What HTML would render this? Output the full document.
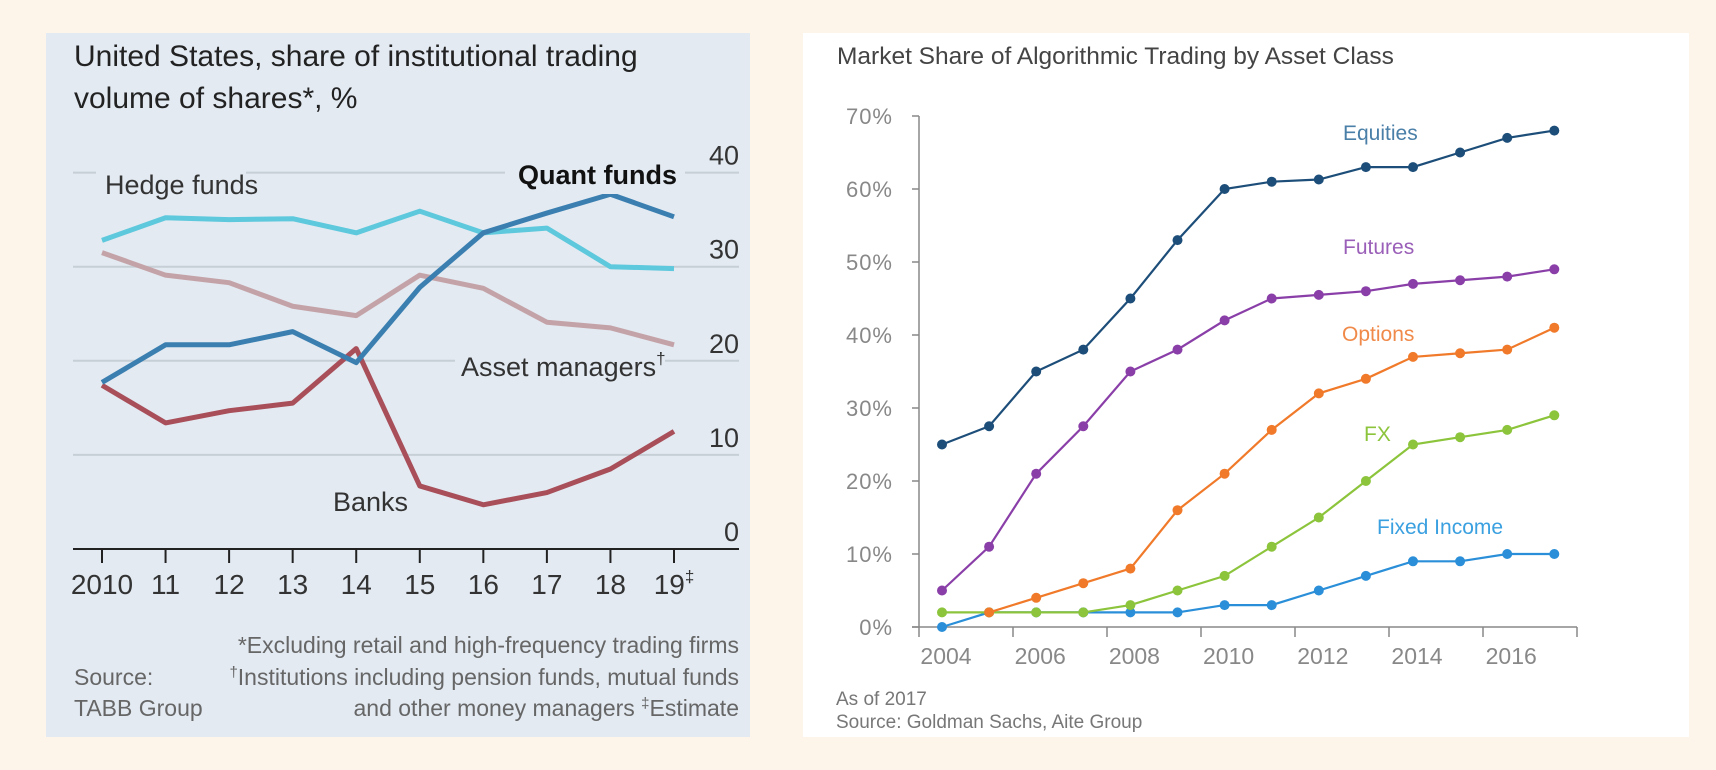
<!DOCTYPE html>
<html><head><meta charset="utf-8"><style>
html,body{margin:0;padding:0;background:#fdf5ea;}
svg{display:block;font-family:"Liberation Sans",sans-serif;}
</style></head><body>
<svg id="root" width="1716" height="770" viewBox="0 0 1716 770">
<rect x="0" y="0" width="1716" height="770" fill="#fdf5ea"/>
<g id="left">
<rect x="46" y="33" width="704" height="704" fill="#e3eaf2"/>
<text x="74" y="66" font-size="30" fill="#222">United States, share of institutional trading</text>
<text x="74" y="108" font-size="30" fill="#222">volume of shares*, %</text>
<g id="lgrid"></g><g id="llines"></g>
<rect x="96" y="170" width="150" height="34" fill="#e3eaf2"/>
<text x="105" y="194" font-size="27" fill="#333">Hedge funds</text>
<rect x="505" y="160" width="180" height="34" fill="#e3eaf2"/>
<text x="677" y="184" font-size="27" font-weight="bold" fill="#111" text-anchor="end">Quant funds</text>
<rect x="455" y="350" width="210" height="32" fill="#e3eaf2"/>
<text x="461" y="376" font-size="27" fill="#333">Asset managers<tspan font-size="17" dy="-12">†</tspan></text>
<text x="333" y="511" font-size="27" fill="#333">Banks</text>
<g font-size="23" fill="#666">
<text x="739" y="653" text-anchor="end">*Excluding retail and high-frequency trading firms</text>
<text x="739" y="685" text-anchor="end"><tspan font-size="15" dy="-8">†</tspan><tspan dy="8">Institutions including pension funds, mutual funds</tspan></text>
<text x="739" y="716" text-anchor="end">and other money managers   <tspan font-size="15" dy="-8">‡</tspan><tspan dy="8">Estimate</tspan></text>
<text x="74" y="685">Source:</text>
<text x="74" y="716">TABB Group</text>
</g>
</g>
<g id="right">
<rect x="803" y="33" width="886" height="704" fill="#ffffff"/>
<text x="837" y="64" font-size="24.5" fill="#444">Market Share of Algorithmic Trading by Asset Class</text>
<g id="raxes"></g><g id="rlines"></g>
<text x="1343" y="140" font-size="21" fill="#4a7fa8">Equities</text>
<text x="1343" y="254" font-size="21" fill="#9a5fb8">Futures</text>
<text x="1342" y="341" font-size="21" fill="#f08a4a">Options</text>
<text x="1364" y="441" font-size="21" fill="#8cc43c">FX</text>
<text x="1377" y="534" font-size="21" fill="#3aa0e0">Fixed Income</text>
<text x="836" y="705" font-size="19" fill="#777">As of 2017</text>
<text x="836" y="728" font-size="19" fill="#777">Source: Goldman Sachs, Aite Group</text>
</g>
</svg>
<script>
const leftYears = ["2010","11","12","13","14","15","16","17","18","19"];
const leftYTicks = [0,10,20,30,40];
const hedgeFunds = [32.8,35.2,35.0,35.1,33.6,35.9,33.6,34.1,30.0,29.8];
const assetManagers = [31.5,29.1,28.3,25.8,24.8,29.1,27.7,24.1,23.5,21.7];
const quantFunds = [17.7,21.7,21.7,23.1,19.8,27.8,33.6,35.7,37.7,35.3];
const banks = [17.4,13.4,14.7,15.5,21.3,6.7,4.7,6.0,8.5,12.5];

const rightYears = [2004,2005,2006,2007,2008,2009,2010,2011,2012,2013,2014,2015,2016,2017];
const rightXLabels = ["2004","2006","2008","2010","2012","2014","2016"];
const rightYTicks = [0,10,20,30,40,50,60,70];
const equities = [25,27.5,35,38,45,53,60,61,61.3,63,63,65,67,68];
const futures = [5,11,21,27.5,35,38,42,45,45.5,46,47,47.5,48,49];
const options = [null,2,4,6,8,16,21,27,32,34,37,37.5,38,41];
const fx = [2,2,2,2,3,5,7,11,15,20,25,26,27,29];
const fixedIncome = [0,2,2,2,2,2,3,3,5,7,9,9,10,10];

const NS="http://www.w3.org/2000/svg";
function mk(tag,attrs,parent,txt){const e=document.createElementNS(NS,tag);for(const k in attrs)e.setAttribute(k,attrs[k]);if(txt!==undefined)e.textContent=txt;parent.appendChild(e);return e;}

// Left chart
const lx=i=>102+i*(674-102)/(leftYears.length-1);
const ly=v=>549-v*9.41;
const lg=document.getElementById('lgrid');
leftYTicks.forEach(t=>{
  if(t>0){const g=mk('line',{x1:73,x2:739,y1:ly(t),y2:ly(t),stroke:'#c6ced6','stroke-width':2},lg);
  
  }
  const tx=mk('text',{x:739,y:ly(t)-8,'text-anchor':'end','font-size':27,fill:'#333'},lg,String(t));
  
  
});
const ax=mk('line',{x1:73,x2:739,y1:549,y2:549,stroke:'#222','stroke-width':2},lg);


leftYears.forEach((y,i)=>{
  const tk=mk('line',{x1:lx(i),x2:lx(i),y1:549,y2:563,stroke:'#222','stroke-width':2},lg);
  
  
  const t=mk('text',{x:lx(i),y:594,'text-anchor':'middle','font-size':28,fill:'#333'},lg,y);
  
  
  if(i===leftYears.length-1){mk('tspan',{'font-size':17,dy:-12},t,'‡');}
});
const ll=document.getElementById('llines');
[[assetManagers,'#c4a3a8','asset-managers-line'],[hedgeFunds,'#5ec8dc','hedge-funds-line'],[banks,'#a84f5a','banks-line'],[quantFunds,'#3a7fb0','quant-funds-line']].forEach(([d,c,n])=>{
  const p=mk('polyline',{points:d.map((v,i)=>lx(i)+','+ly(v)).join(' '),fill:'none',stroke:c,'stroke-width':5,'stroke-linejoin':'round'},ll);
  
  
});

// Right chart
const rx=i=>942+i*47.1;
const ry=v=>627-v*7.3;
const ra=document.getElementById('raxes');
const yl=mk('line',{x1:919,x2:919,y1:ry(70),y2:627,stroke:'#888','stroke-width':1.5},ra);


const xl=mk('line',{x1:912,x2:1577,y1:627,y2:627,stroke:'#888','stroke-width':1.5},ra);


rightYTicks.forEach(t=>{
  const tk=mk('line',{x1:912,x2:919,y1:ry(t),y2:ry(t),stroke:'#888','stroke-width':1.5},ra);
  
  
  const tx=mk('text',{x:893,y:ry(t)+8,'text-anchor':'end','font-size':22,'letter-spacing':1,fill:'#888'},ra,t+'%');
  
  
});
for(let k=0;k<=7;k++){
  const x=Math.min(919+k*94,1577);
  const tk=mk('line',{x1:x,x2:x,y1:627,y2:637,stroke:'#888','stroke-width':1.5},ra);
  
  
}
rightXLabels.forEach(l=>{
  const i=rightYears.indexOf(+l);
  const t=mk('text',{x:rx(i)+4,y:664,'text-anchor':'middle','font-size':23,fill:'#888'},ra,l);
  
  
});
const rl=document.getElementById('rlines');
[[fixedIncome,'#2a8fd8','fixed-income'],[fx,'#8cc43c','fx'],[options,'#f07a2a','options'],[futures,'#8a3fa8','futures'],[equities,'#1d4e79','equities']].forEach(([d,c,n])=>{
  const pts=[];d.forEach((v,i)=>{if(v!==null)pts.push([rx(i),ry(v)]);});
  const p=mk('polyline',{points:pts.map(q=>q.join(',')).join(' '),fill:'none',stroke:c,'stroke-width':2.2},rl);
  
  
  pts.forEach(q=>{
    const ci=mk('circle',{cx:q[0],cy:q[1],r:5,fill:c},rl);
    
    
  });
});
</script>
</body></html>
